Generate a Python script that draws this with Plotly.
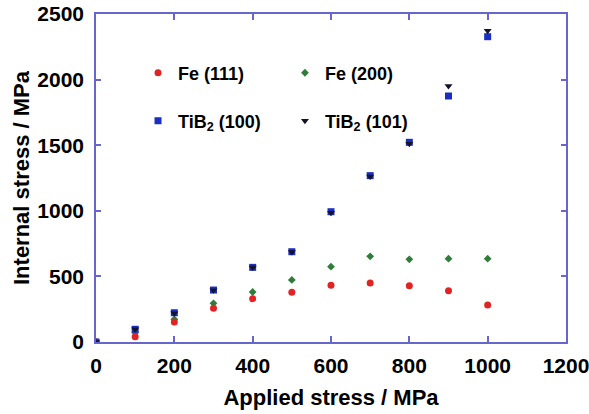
import plotly.graph_objects as go

applied = [0, 100, 200, 300, 400, 500, 600, 700, 800, 900, 1000]
fe111 = [0, 40, 152, 257, 330, 379, 432, 450, 429, 391, 282]
fe200 = [0, 70, 173, 295, 381, 473, 574, 653, 630, 635, 635]
tib2_100 = [0, 97, 223, 396, 569, 688, 993, 1268, 1522, 1875, 2327]
tib2_101 = [0, 97, 220, 394, 567, 686, 985, 1262, 1512, 1951, 2373]

x_ticks = [0, 200, 400, 600, 800, 1000, 1200]
y_ticks = [0, 500, 1000, 1500, 2000, 2500]

FONT = "Liberation Sans, Arial, sans-serif"
AXC = "#6666cc"

fig = go.Figure()
fig.add_trace(go.Scatter(x=applied, y=fe200, mode="markers", name="Fe (200)",
                         marker=dict(symbol="diamond", size=6, color="#2e7d3a"),
                         legend="legend2"))
fig.add_trace(go.Scatter(x=applied, y=fe111, mode="markers", name="Fe (111)",
                         marker=dict(symbol="circle", size=7, color="#e02424"),
                         legend="legend"))
fig.add_trace(go.Scatter(x=applied, y=tib2_100, mode="markers", name="TiB<sub>2</sub> (100)",
                         marker=dict(symbol="square", size=7, color="#1a2ec4"),
                         legend="legend3"))
fig.add_trace(go.Scatter(x=applied, y=tib2_101, mode="markers", name="TiB<sub>2</sub> (101)",
                         marker=dict(symbol="triangle-down", size=7, color="#141428"),
                         legend="legend4"))

leg_common = dict(bgcolor="rgba(0,0,0,0)", font=dict(family=FONT, size=18, color="black", weight="bold"),
                  xanchor="left", yanchor="middle", borderwidth=0, visible=True)
fig.update_layout(
    showlegend=True,
    legend=dict(x=0.0894, y=0.820, **leg_common),
    legend2=dict(x=0.402, y=0.820, **leg_common),
    legend3=dict(x=0.0894, y=0.674, **leg_common),
    legend4=dict(x=0.402, y=0.674, **leg_common),
)

fig.update_layout(
    width=589, height=414,
    margin=dict(l=96, r=23, t=14, b=72, autoexpand=False),
    paper_bgcolor="white", plot_bgcolor="white",
    font=dict(family=FONT, color="black", weight="bold"),
    xaxis=dict(range=[0, 1200], tickvals=x_ticks, ticktext=[str(v) for v in x_ticks],
               showgrid=False, zeroline=False, showline=True, linecolor=AXC, linewidth=1.5,
               mirror="ticks", ticks="inside", ticklen=6, tickcolor=AXC, tickwidth=1.5,
               tickfont=dict(family=FONT, size=21, color="black", weight="bold"),
               ticklabelstandoff=4, ticklabeloverflow="allow", automargin=False,
               title=dict(text="Applied stress / MPa", standoff=14,
                          font=dict(family=FONT, size=22, color="black", weight="bold"))),
    yaxis=dict(range=[0, 2500], tickvals=y_ticks, ticktext=[str(v) for v in y_ticks],
               showgrid=False, zeroline=False, showline=True, linecolor=AXC, linewidth=1.5,
               mirror="ticks", ticks="inside", ticklen=5, tickcolor=AXC, tickwidth=1.5,
               tickfont=dict(family=FONT, size=21, color="black", weight="bold"),
               ticklabelstandoff=6, ticklabeloverflow="allow", automargin=False,
               title=dict(text="Internal stress / MPa", standoff=2,
                          font=dict(family=FONT, size=22, color="black", weight="bold"))),
)

fig.write_html("out.html", config={"displayModeBar": False},
               post_script="document.body.style.margin='0';document.body.style.overflow='hidden';")
